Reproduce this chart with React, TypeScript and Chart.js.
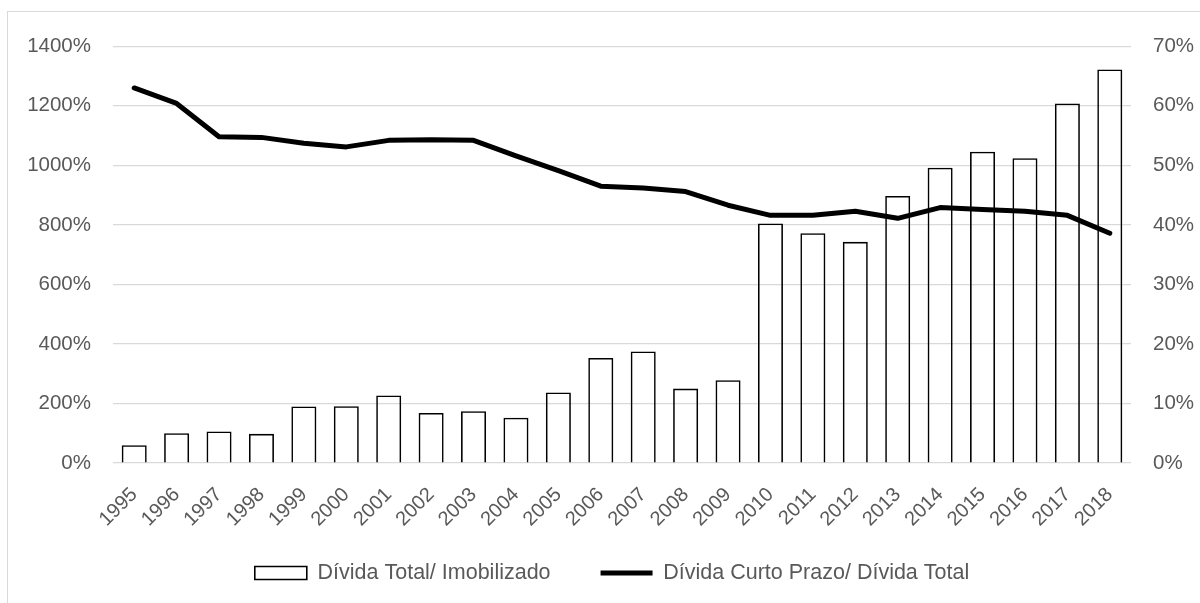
import { useEffect, useRef } from "react";
import { Chart, registerables } from "chart.js";

Chart.register(...registerables);

// Years on the category axis
const years = [
  "1995", "1996", "1997", "1998", "1999", "2000", "2001", "2002",
  "2003", "2004", "2005", "2006", "2007", "2008", "2009", "2010",
  "2011", "2012", "2013", "2014", "2015", "2016", "2017", "2018",
];

// Dívida Total / Imobilizado (%), left axis
const dividaTotalImobilizado = [
  60, 100, 106, 98, 190, 191, 227, 168, 174, 152, 237, 353,
  375, 250, 278, 805, 772, 743, 897, 992, 1046, 1024, 1208, 1322,
];

// Dívida Curto Prazo / Dívida Total (%), right axis
const dividaCurtoPrazo = [
  63.0, 60.4, 54.8, 54.7, 53.7, 53.1, 54.2, 54.3, 54.2, 51.6, 49.1, 46.5,
  46.2, 45.6, 43.3, 41.6, 41.6, 42.3, 41.1, 42.9, 42.6, 42.3, 41.6, 38.6,
];

const seriesNames = ["Dívida Total/ Imobilizado", "Dívida Curto Prazo/ Dívida Total"];

const leftAxis = { min: 0, max: 1400, step: 200 };
const rightAxis = { min: 0, max: 70, step: 10 };

const FONT = "'Liberation Sans', Arial, sans-serif";
const TEXT = "#595959";
const GRID = "#d9d9d9";

export default function App() {
  const canvasRef = useRef<HTMLCanvasElement | null>(null);

  useEffect(() => {
    const canvas = canvasRef.current;
    if (!canvas) return;

    const chart = new Chart(canvas, {
      type: "bar",
      data: {
        labels: years,
        datasets: [
          {
            type: "bar",
            label: seriesNames[0],
            data: dividaTotalImobilizado,
            yAxisID: "y",
            backgroundColor: "rgba(255,255,255,0)",
            borderColor: "#000000",
            borderWidth: 1.6,
            borderSkipped: "start",
            barPercentage: 0.59,
            categoryPercentage: 1,
            pointStyle: "rect",
            order: 1,
          },
          {
            type: "line",
            label: seriesNames[1],
            data: dividaCurtoPrazo,
            yAxisID: "y1",
            borderColor: "#000000",
            backgroundColor: "#000000",
            borderWidth: 5,
            borderCapStyle: "round",
            borderJoinStyle: "round",
            pointRadius: 0,
            pointHoverRadius: 0,
            pointStyle: "line",
            tension: 0,
            fill: false,
            order: 0,
          },
        ],
      } as any,
      options: {
        responsive: false,
        animation: false,
        devicePixelRatio: 1,
        layout: { padding: { top: 29, left: 0, right: 0, bottom: 18.25 } },
        plugins: {
          tooltip: { enabled: false },
          legend: {
            position: "bottom",
            labels: {
              usePointStyle: true,
              pointStyleWidth: 52,
              boxHeight: 13,
              padding: 50,
              color: TEXT,
              font: { family: FONT, size: 21.5 },
              sort: (a: any, b: any) => a.datasetIndex - b.datasetIndex,
            },
          },
        },
        scales: {
          x: {
            grid: { display: false, drawTicks: false },
            border: { display: false },
            ticks: {
              color: TEXT,
              font: { family: FONT, size: 20 },
              maxRotation: 45,
              minRotation: 45,
              autoSkip: false,
              padding: 20,
            },
            afterFit: (s: any) => {
              // keep the axis band compact; the slanted year labels may run
              // past it into the empty space above the legend
              s.height = 49.25;
              s._computeLabelArea = () => undefined;
            },
          },
          y: {
            position: "left",
            min: leftAxis.min,
            max: leftAxis.max,
            grid: { color: GRID, lineWidth: 1.2, drawTicks: false },
            border: { display: false },
            ticks: {
              stepSize: leftAxis.step,
              color: TEXT,
              font: { family: FONT, size: 20.5 },
              padding: 22,
              callback: (v: any) => `${v}%`,
            },
            afterFit: (s: any) => {
              s.width = 105;
            },
          },
          y1: {
            position: "right",
            min: rightAxis.min,
            max: rightAxis.max,
            grid: { display: false, drawTicks: false },
            border: { display: false },
            ticks: {
              stepSize: rightAxis.step,
              color: TEXT,
              font: { family: FONT, size: 20.5 },
              padding: 22,
              callback: (v: any) => `${v}%`,
            },
            afterFit: (s: any) => {
              s.width = 85;
            },
          },
        },
      } as any,
    });

    return () => chart.destroy();
  }, []);

  return (
    <div
      style={{
        position: "fixed",
        left: 7,
        top: 11,
        width: 1220,
        height: 620,
        border: `1px solid ${GRID}`,
        boxSizing: "border-box",
        background: "#ffffff",
      }}
    >
      <canvas
        ref={canvasRef}
        width={1208}
        height={600}
        style={{ position: "absolute", left: 0, top: 0, display: "block" }}
      />
    </div>
  );
}
